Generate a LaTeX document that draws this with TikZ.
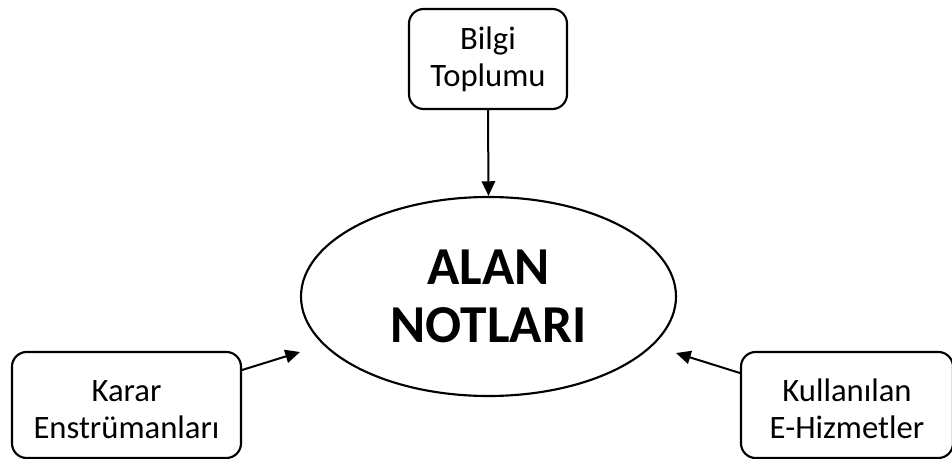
\documentclass[tikz,border=0pt]{standalone}
\usepackage{fontspec}
\setmainfont{Carlito}
\usetikzlibrary{shapes.geometric,arrows.meta}
\begin{document}
\begin{tikzpicture}[x=0.75pt,y=-0.75pt,
  box/.style={draw,line width=1.6pt,rounded corners=11pt,align=center,inner sep=0pt,
    font=\fontsize{24.5pt}{28pt}\selectfont},
  oval/.style={draw,ellipse,line width=1.6pt,align=center,inner sep=0pt,
    font=\fontsize{40pt}{43.5pt}\selectfont\bfseries},
  conn/.style={line width=1.5pt,-{Triangle[length=11pt,width=10pt]}}]
\clip (0,0) rectangle (952,459);
\node[box,minimum width=118.5pt,minimum height=75pt] (top) at (488,59) {Bilgi\\Toplumu};
\node[oval,minimum width=281.25pt,minimum height=149.25pt] (main) at (488.5,296.5) {ALAN\\NOTLARI};
\node[box,minimum width=171.75pt,minimum height=79.5pt] (left) at (126.5,405) {\raisebox{-12pt}[0pt][0pt]{\begin{tabular}{@{}c@{}}Karar\\Enstrümanları\end{tabular}}};
\node[box,minimum width=159pt,minimum height=79.5pt] (right) at (847,405) {\raisebox{-12pt}[0pt][0pt]{\begin{tabular}{@{}c@{}}Kullanılan\\E-Hizmetler\end{tabular}}};
\coordinate (lt) at (300,352);
\coordinate (rt) at (676,353);
\draw[conn] (left.east |- 0,370) -- (lt);
\draw[conn] (right.west |- 0,373) -- (rt);
\draw[conn] (top.south) -- (main.north);
\end{tikzpicture}
\end{document}
